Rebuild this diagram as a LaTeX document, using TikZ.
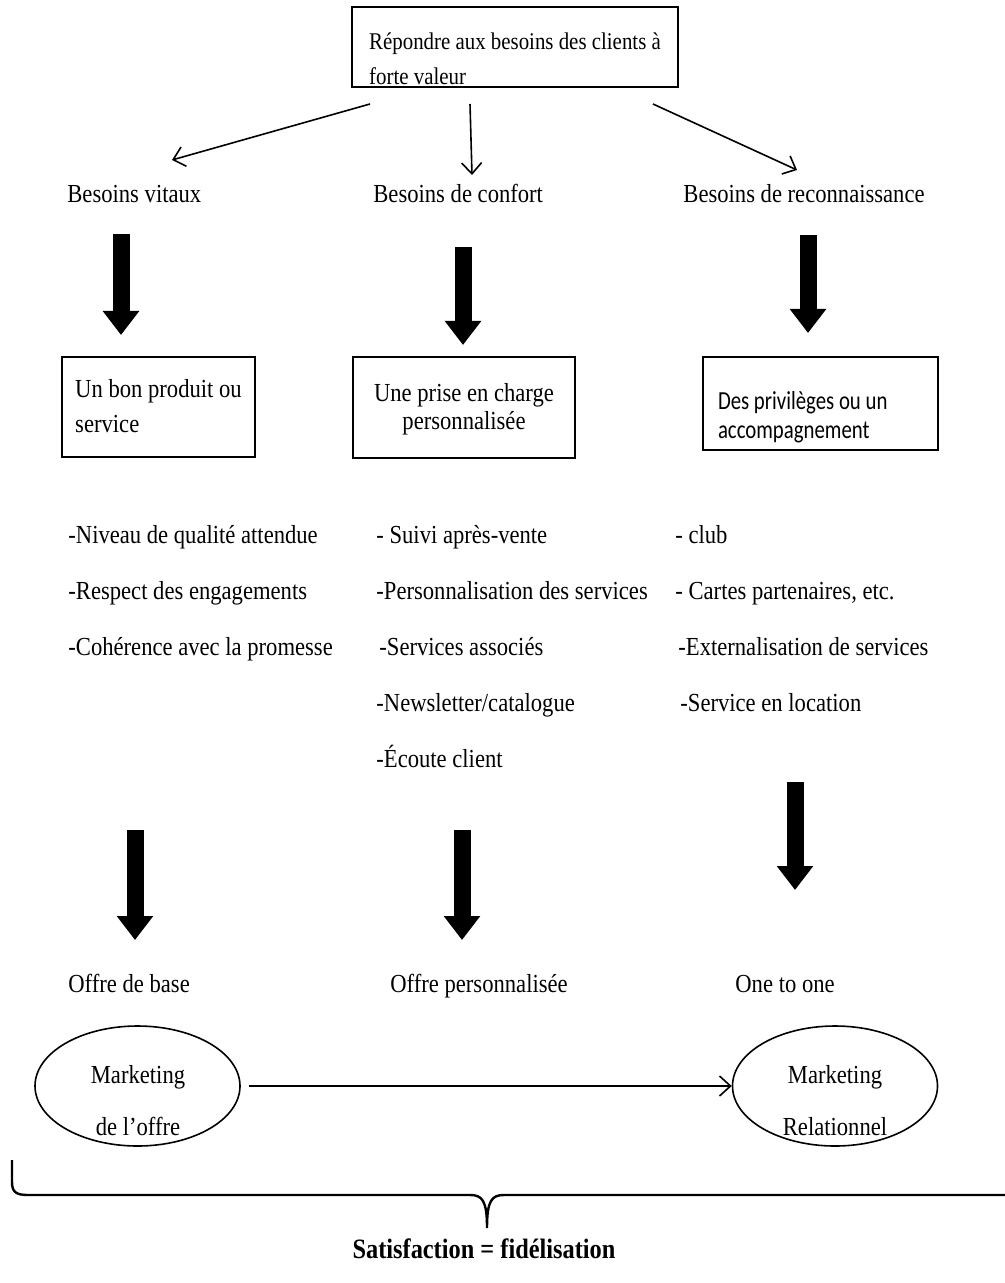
\documentclass[tikz,border=0pt]{standalone}
\usepackage{fontspec}
\setmainfont{Liberation Serif}[FakeStretch=0.87]
\newfontfamily\sansbox{Carlito}[FakeStretch=0.8]
\usetikzlibrary{arrows.meta,shapes.geometric}

\begin{document}
\begin{tikzpicture}[x=0.5pt, y=-0.5pt, every node/.style={font=\fontsize{13}{17.5}\selectfont, inner sep=0pt},
	box/.style={draw, line width=1.1pt},
	lbl/.style={anchor=base west},
	oval/.style={draw, ellipse, line width=0.8pt, minimum width=102.5pt, minimum height=60pt},
	thinarrow/.style={line width=0.8pt, -{Straight Barb[length=5.5pt, width=10pt]}},
	bigarrow/.style={line width=8.5pt, -{Triangle[width=17.5pt, length=12pt]}}]
	\useasboundingbox (0,0) rectangle (1005,1283);
	% top box and the three needs
	\node[box, minimum width=163pt, minimum height=40pt, align=left, font=\fontsize{12}{17.5}\selectfont] (top) at (515,47) {\rule{0pt}{20pt}Répondre aux besoins des clients à\\forte valeur};
	\node[lbl] (vitaux) at (67,203) {Besoins vitaux};
	\node[lbl] (confort) at (373,203) {Besoins de confort};
	\node[lbl] (reco) at (683,203) {Besoins de reconnaissance};
	\foreach \n/\xa/\xb/\yb in {t1/370/172/160, t2/470/472/175, t3/653/797/170} {
		\coordinate (\n-s) at (\xa,104);
		\coordinate (\n-e) at (\xb,\yb);
		\draw[thinarrow] (\n-s) -- (\n-e);
	}
	% thick arrows
	\foreach \n/\x/\ya/\yb in {a1/121/234/335, a2/463/247/345, a3/808/235/333, b1/135/830/940, b2/462/830/940, b3/795/782/890} {
		\coordinate (\n-s) at (\x,\ya);
		\coordinate (\n-e) at (\x,\yb);
		\draw[bigarrow] (\n-s) -- (\n-e);
	}
	% boxes
	\node[box, minimum width=96.5pt, minimum height=50pt, align=left] (produit) at (158.5,407) {Un bon produit ou\\service\rule[-1.4pt]{0pt}{0pt}};
	\node[box, minimum width=111pt, minimum height=50.5pt, align=center, font=\fontsize{13}{14}\selectfont] (charge) at (464,407.5) {\rule{0pt}{10.5pt}Une prise en charge\\personnalisée\rule[-1.4pt]{0pt}{0pt}};
	\node[box, text width=102.5pt, inner xsep=7.5pt, minimum height=46.5pt, align=flush left, font=\sansbox\fontsize{13}{14.5}\selectfont] (privil) at (820.5,403.5) {\rule{0pt}{22.3pt}Des privilèges ou un\\accompagnement};
	% lists
	\foreach \t [count=\i] in {-Niveau de qualité attendue, -Respect des engagements, -Cohérence avec la promesse}
		\node[lbl] (vit\i) at (68,487+56*\i) {\t};
	\foreach \t [count=\i] in {- Suivi après-vente, -Personnalisation des services, \hspace{1.5pt}-Services associés, -Newsletter/catalogue, -Écoute client}
		\node[lbl] (conf\i) at (376,487+56*\i) {\t};
	\foreach \t [count=\i] in {- club, {- Cartes partenaires, etc.}, \hspace{1.5pt}-Externalisation de services, \hspace{2.5pt}-Service en location}
		\node[lbl] (rec\i) at (675,487+56*\i) {\t};
	% offers
	\node[lbl] (base) at (68,992) {Offre de base};
	\node[lbl] (perso) at (390,992) {Offre personnalisée};
	\node[lbl] (one) at (735,992) {One to one};
	% marketing ellipses
	\node[oval] (mkoffre) at (137.5,1086) {};
	\node[oval] (mkrel) at (835,1086) {};
	\node[align=center, font=\fontsize{13}{26}\selectfont] (mkoffretxt) at (138,1101) {Marketing\\de l’offre};
	\node[align=center, font=\fontsize{13}{26}\selectfont] (mkreltxt) at (835,1101) {Marketing\\Relationnel};
	\draw[thinarrow, shorten <=4pt] (mkoffre) -- (mkrel);
	% brace
	\draw[line width=1.2pt] (12,1160) -- (12,1182) .. controls (12,1192) and (16,1195) .. (28,1195) -- (470,1195) .. controls (482,1195) and (487,1200) .. (487,1228) .. controls (487,1200) and (492,1195) .. (504,1195) -- (1010,1195);
	\node[anchor=base, font=\bfseries\fontsize{14}{16}\selectfont] (satis) at (484,1258) {Satisfaction = fidélisation};
\end{tikzpicture}
\end{document}
